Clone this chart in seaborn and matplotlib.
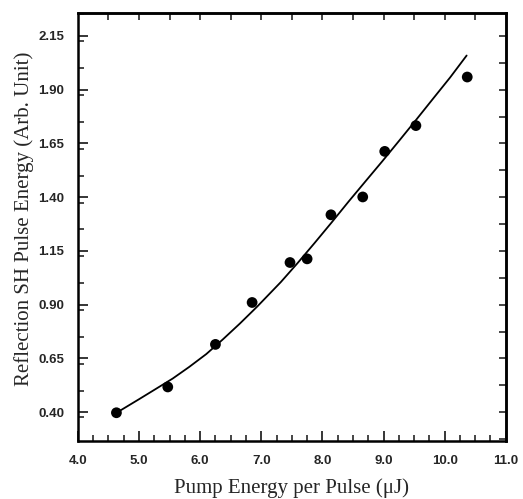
import numpy as np
import pandas as pd
import seaborn as sns
import matplotlib.pyplot as plt
from matplotlib.ticker import MultipleLocator, FormatStrFormatter

pump_energy = [4.63, 5.47, 6.25, 6.85, 7.47, 7.75, 8.14, 8.66, 9.02, 9.53, 10.37]
sh_energy = [0.397, 0.517, 0.715, 0.910, 1.096, 1.113, 1.318, 1.401, 1.613, 1.733, 1.959]

# fitted curve, points
fit_x = [4.65, 5.00, 5.27, 5.55, 5.82, 6.10, 6.37, 6.65, 6.93, 7.32, 7.59,
         7.87, 8.15, 8.43, 8.70, 8.98, 9.26, 9.54, 9.81, 10.09, 10.36]
fit_y = [0.400, 0.460, 0.507, 0.556, 0.610, 0.670, 0.738, 0.812, 0.890, 1.005, 1.092,
         1.186, 1.282, 1.380, 1.472, 1.567, 1.664, 1.762, 1.858, 1.957, 2.059]

x_ticks = [4.0, 5.0, 6.0, 7.0, 8.0, 9.0, 10.0, 11.0]
y_ticks = [0.40, 0.65, 0.90, 1.15, 1.40, 1.65, 1.90, 2.15]

pts = pd.DataFrame({'pump': pump_energy, 'sh': sh_energy})
fit = pd.DataFrame({'pump': fit_x, 'sh': fit_y})

sns.set_style('ticks')

fig = plt.figure(figsize=(5.23, 4.99), dpi=100)
ax = fig.add_axes([0.149, 0.116, 0.818, 0.858])

sns.lineplot(x='pump', y='sh', data=fit, ax=ax, color='black', lw=1.3,
             sort=True, estimator=None)
sns.scatterplot(x='pump', y='sh', data=pts, ax=ax, s=60, color='black',
                edgecolor='none', zorder=3)

ax.set_xlim(4.0, 11.0)
ax.set_ylim(0.265, 2.257)
ax.set_xticks(x_ticks)
ax.set_yticks(y_ticks)
ax.xaxis.set_major_formatter(FormatStrFormatter('%.1f'))
ax.yaxis.set_major_formatter(FormatStrFormatter('%.2f'))
ax.xaxis.set_minor_locator(MultipleLocator(0.25))
ax.yaxis.set_minor_locator(MultipleLocator(0.125))

ax.tick_params(which='major', direction='in', length=7, width=1.3,
               bottom=True, left=True, top=False, right=False)
ax.tick_params(axis='x', which='major', pad=10)
ax.tick_params(axis='y', which='major', pad=10)
ax.tick_params(which='minor', direction='in', length=4, width=1.2,
               bottom=True, left=True, top=False, right=False)
for lab in ax.get_xticklabels() + ax.get_yticklabels():
    lab.set_fontfamily('Liberation Sans')
    lab.set_fontweight('bold')
    lab.set_fontsize(9.5)

# top and right frame ticks
top = ax.secondary_xaxis('top')
top.set_xticks(np.arange(4.5, 11.0, 0.5))
top.tick_params(direction='in', length=5, width=1.2, labeltop=False)
right = ax.secondary_yaxis('right')
right.set_yticks(np.arange(0.275, 2.25, 0.125))
right.tick_params(direction='in', length=5, width=1.2, labelright=False)

for sp in list(ax.spines.values()) + [top.spines['top'], right.spines['right']]:
    sp.set_linewidth(1.8)
    sp.set_color('black')

ax.set_xlabel('Pump Energy per Pulse (\u03bcJ)', fontfamily='Liberation Serif',
              fontsize=15, labelpad=8)
ax.set_ylabel('Reflection SH Pulse Energy (Arb. Unit)', fontfamily='Liberation Serif',
              fontsize=15)
ax.yaxis.set_label_coords(-0.103, 0.52)

fig.savefig('out.png', dpi=100)
